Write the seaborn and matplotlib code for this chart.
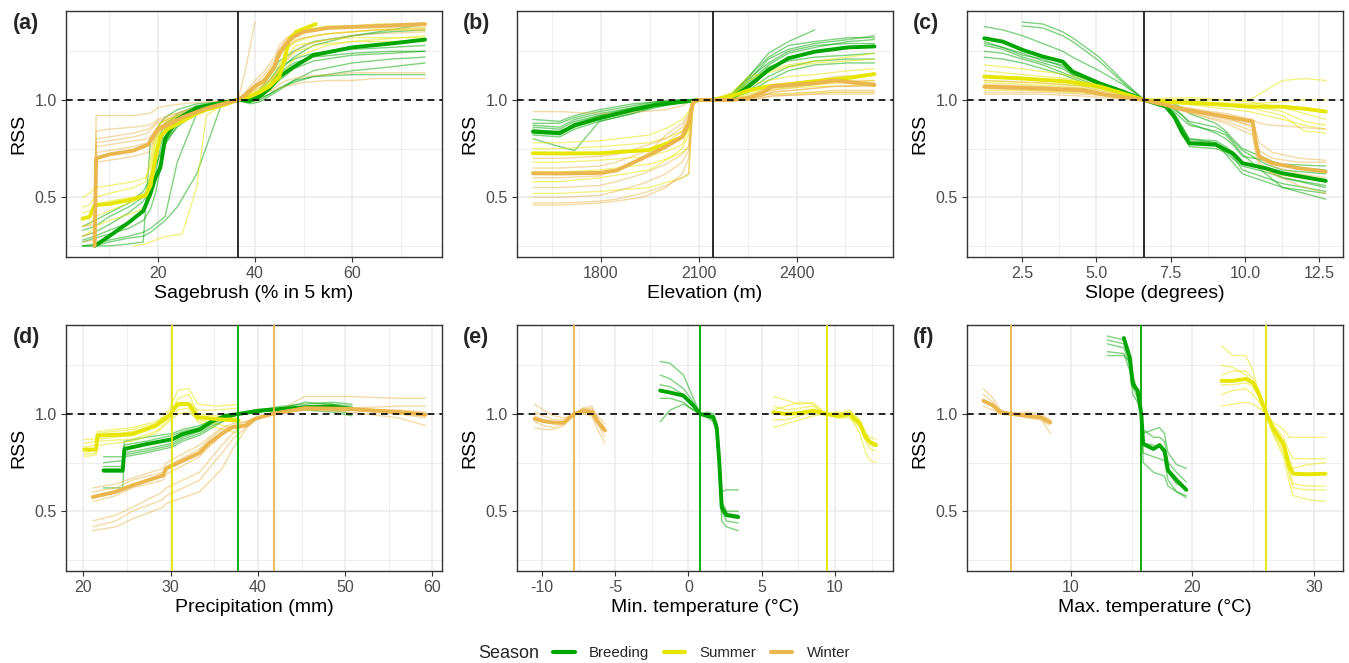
import numpy as np
import pandas as pd
import matplotlib
matplotlib.use("Agg")
import matplotlib.pyplot as plt
from matplotlib.lines import Line2D
from matplotlib.ticker import FixedLocator
import seaborn as sns

nan = np.nan
SEASONS = ["Breeding", "Summer", "Winter"]
COLORS = ["#00A600", "#E6E600", "#EAB64E"]

# ---------------- (a) Sagebrush ----------------
A_BRE_X = [4.5, 7, 10, 14, 17, 18.5, 19.5, 20.5, 21.5, 24, 28, 33, 36.5, 39, 41, 43, 45, 48, 52, 60, 68, 75]
A_BRE_MEAN = [nan, 0.25, 0.30, 0.37, 0.43, 0.52, 0.60, 0.65, 0.80, 0.90, 0.96, 0.985, 1.0, 0.995, 1.02, 1.06, 1.12, 1.17, 1.23, 1.27, 1.29, 1.31]
A_BRE_THIN = [
    [0.28, 0.30, 0.33, 0.37, 0.42, 0.50, 0.62, 0.75, 0.86, 0.93, 0.97, 0.99, 1.0, 1.0, 1.03, 1.08, 1.15, 1.22, 1.28, 1.33, 1.36, 1.39],
    [0.25, 0.25, 0.25, 0.26, 0.27, 0.80, 0.84, 0.88, 0.91, 0.95, 0.98, 0.99, 1.0, 0.99, 1.0, 1.03, 1.06, 1.10, 1.12, 1.13, 1.13, 1.13],
    [0.33, 0.35, 0.40, 0.45, 0.50, 0.58, 0.66, 0.72, 0.80, 0.88, 0.95, 0.98, 1.0, 1.01, 1.04, 1.10, 1.17, 1.21, 1.24, 1.26, 1.27, 1.28],
    [0.25, 0.26, 0.28, 0.30, 0.32, 0.34, 0.36, 0.38, 0.40, 0.68, 0.93, 0.98, 1.0, 0.98, 0.99, 1.02, 1.05, 1.10, 1.15, 1.19, 1.21, 1.22],
    [0.30, 0.32, 0.36, 0.42, 0.48, 0.55, 0.60, 0.68, 0.78, 0.86, 0.94, 0.98, 1.0, 1.0, 1.02, 1.07, 1.14, 1.19, 1.22, 1.24, 1.25, 1.25],
    [0.35, 0.38, 0.42, 0.47, 0.53, 0.60, 0.70, 0.82, 0.88, 0.92, 0.96, 0.985, 1.0, 1.01, 1.05, 1.12, 1.20, 1.25, 1.30, 1.33, 1.35, 1.36],
    [0.25, 0.25, 0.27, 0.29, 0.30, 0.32, 0.34, 0.36, 0.38, 0.45, 0.62, 0.97, 1.0, 1.0, 1.01, 1.03, 1.06, 1.09, 1.12, 1.15, 1.17, 1.19],
    [0.27, 0.29, 0.31, 0.34, 0.38, 0.44, 0.52, 0.64, 0.77, 0.87, 0.95, 0.985, 1.0, 0.99, 1.01, 1.05, 1.10, 1.16, 1.20, 1.23, 1.24, 1.25],
]
A_SUM_X = [4.5, 6, 7, 10, 15, 17.5, 18.5, 19.5, 20.5, 22, 25, 28, 30, 33, 36.5, 39, 41, 43, 45, 46, 47, 48.5, 52.5, 55, 60, 65, 75]
A_SUM_MEAN = [0.39, 0.40, 0.46, 0.465, 0.49, 0.51, 0.56, 0.70, 0.81, 0.85, 0.89, 0.93, 0.95, 0.97, 1.0, 1.02, 1.04, 1.07, 1.12, 1.2, 1.31, 1.35, 1.39, nan, nan, nan, nan]
A_SUM_THIN = [
    [0.50, 0.52, 0.55, 0.56, 0.58, 0.60, 0.66, 0.80, 0.88, 0.90, 0.92, 0.95, 0.96, 0.98, 1.0, 1.03, 1.08, 1.15, 1.22, 1.26, 1.28, 1.31, 1.33, 1.34, 1.35, 1.36, 1.37],
    [0.30, 0.32, 0.35, 0.38, 0.42, 0.45, 0.55, 0.75, 0.84, 0.88, 0.91, 0.94, 0.96, 0.98, 1.0, 1.01, 1.03, 1.06, 1.10, 1.14, 1.18, 1.22, 1.26, 1.28, 1.30, 1.31, 1.33],
    [nan, nan, nan, nan, 0.25, 0.26, 0.27, 0.28, 0.29, 0.30, 0.31, 0.55, 0.92, 0.97, 1.0, 1.02, 1.05, 1.10, 1.16, 1.20, 1.24, 1.28, 1.30, 1.31, 1.32, 1.32, 1.32],
    [0.45, 0.46, 0.50, 0.52, 0.55, 0.58, 0.70, 0.84, 0.88, 0.90, 0.93, 0.95, 0.97, 0.98, 1.0, 1.02, 1.05, 1.09, 1.15, 1.22, 1.30, 1.35, 1.37, 1.38, 1.38, 1.39, 1.39],
    [0.42, 0.43, 0.46, 0.48, 0.50, 0.52, 0.62, 0.78, 0.86, 0.89, 0.92, 0.94, 0.96, 0.98, 1.0, 1.02, 1.06, 1.12, 1.18, 1.23, 1.27, 1.30, 1.33, 1.34, 1.35, 1.36, 1.36],
    [0.35, 0.36, 0.40, 0.43, 0.48, 0.52, 0.58, 0.68, 0.80, 0.86, 0.90, 0.93, 0.95, 0.97, 1.0, 1.01, 1.04, 1.08, 1.14, 1.18, 1.22, 1.25, 1.28, 1.29, 1.30, 1.30, 1.30],
]
A_WIN_X = [4.5, 7, 7.3, 10, 15, 18, 19, 20, 22, 25, 30, 36.5, 38, 40, 42, 44, 45, 46.5, 48, 50, 55, 60, 65, 75]
A_WIN_MEAN = [nan, 0.25, 0.70, 0.72, 0.74, 0.77, 0.81, 0.85, 0.87, 0.91, 0.957, 1.0, 1.026, 1.07, 1.10, 1.17, 1.24, 1.29, 1.325, 1.35, 1.37, 1.375, 1.38, 1.39]
A_WIN_THIN = [
    [0.30, 0.32, 0.92, 0.92, 0.92, 0.93, 0.94, 0.96, 0.97, 0.98, 0.99, 1.0, 1.15, 1.40, nan, nan, nan, nan, nan, nan, nan, nan, nan, nan],
    [0.27, 0.28, 0.80, 0.81, 0.83, 0.85, 0.87, 0.89, 0.91, 0.94, 0.97, 1.0, 1.01, 1.03, 1.04, 1.05, 1.06, 1.07, 1.08, 1.09, 1.10, 1.10, 1.11, 1.11],
    [nan, 0.25, 0.76, 0.77, 0.79, 0.80, 0.83, 0.86, 0.88, 0.92, 0.96, 1.0, 1.02, 1.05, 1.08, 1.12, 1.16, 1.21, 1.25, 1.28, 1.31, 1.33, 1.34, 1.35],
    [nan, 0.25, 0.84, 0.85, 0.86, 0.87, 0.88, 0.90, 0.92, 0.94, 0.97, 1.0, 1.04, 1.10, 1.15, 1.22, 1.28, 1.32, 1.34, 1.36, 1.37, 1.38, 1.38, 1.38],
    [nan, 0.25, 0.68, 0.69, 0.71, 0.73, 0.78, 0.83, 0.86, 0.90, 0.95, 1.0, 1.01, 1.02, 1.04, 1.06, 1.08, 1.10, 1.11, 1.12, 1.13, 1.14, 1.14, 1.14],
    [0.35, 0.36, 0.78, 0.79, 0.81, 0.83, 0.86, 0.88, 0.90, 0.93, 0.96, 1.0, 1.03, 1.08, 1.13, 1.20, 1.26, 1.31, 1.34, 1.36, 1.37, 1.37, 1.37, 1.37],
    [nan, 0.25, 0.73, 0.74, 0.76, 0.78, 0.82, 0.86, 0.89, 0.92, 0.96, 1.0, 1.03, 1.07, 1.11, 1.17, 1.22, 1.27, 1.30, 1.32, 1.34, 1.35, 1.36, 1.36],
]

# ---------------- (b) Elevation ----------------
B_BRE_X = [1591, 1673, 1719, 1795, 1897, 1968, 2049, 2100, 2141, 2202, 2253, 2314, 2375, 2456, 2558, 2639]
B_BRE_MEAN = [0.837, 0.83, 0.87, 0.906, 0.949, 0.974, 0.99, 1.0, 1.0, 1.01, 1.07, 1.154, 1.214, 1.248, 1.27, 1.275]
B_BRE_THIN = [
    [0.88, 0.88, 0.91, 0.94, 0.97, 0.99, 1.0, 1.0, 1.0, 1.03, 1.12, 1.22, 1.28, 1.30, 1.32, 1.32],
    [0.80, 0.76, 0.74, 0.89, 0.93, 0.97, 0.99, 1.0, 1.0, 1.01, 1.04, 1.10, 1.15, 1.18, 1.19, 1.19],
    [0.86, 0.85, 0.89, 0.92, 0.96, 0.98, 1.0, 1.0, 1.0, 1.03, 1.12, 1.24, 1.30, 1.36, nan, nan],
    [0.82, 0.81, 0.85, 0.89, 0.93, 0.96, 0.99, 1.0, 1.0, 1.01, 1.05, 1.12, 1.17, 1.20, 1.21, 1.21],
    [0.90, 0.89, 0.92, 0.95, 0.98, 0.99, 1.0, 1.0, 1.0, 1.02, 1.09, 1.18, 1.24, 1.27, 1.30, 1.31],
    [0.84, 0.84, 0.87, 0.91, 0.95, 0.98, 0.99, 1.0, 1.0, 1.01, 1.06, 1.15, 1.22, 1.25, 1.27, 1.28],
    [0.87, 0.86, 0.90, 0.93, 0.96, 0.985, 1.0, 1.0, 1.0, 1.02, 1.10, 1.21, 1.26, 1.29, 1.31, 1.33],
    [0.83, 0.82, 0.86, 0.90, 0.94, 0.97, 0.99, 1.0, 1.0, 1.01, 1.08, 1.17, 1.20, 1.22, 1.23, 1.24],
    [0.85, 0.83, 0.88, 0.92, 0.95, 0.975, 0.995, 1.0, 1.0, 1.02, 1.11, 1.19, 1.25, 1.28, 1.29, 1.29],
]
B_SUM_X = [1591, 1673, 1795, 1948, 2008, 2049, 2069, 2082, 2100, 2141, 2202, 2253, 2314, 2375, 2456, 2558, 2639]
B_SUM_MEAN = [0.726, 0.725, 0.726, 0.743, 0.78, 0.81, 0.87, 0.99, 1.0, 1.0, 1.02, 1.05, 1.07, 1.08, 1.096, 1.113, 1.133]
B_SUM_THIN = [
    [0.78, 0.78, 0.79, 0.82, 0.86, 0.90, 0.94, 0.99, 1.0, 1.0, 1.03, 1.10, 1.15, 1.18, 1.20, 1.22, 1.24],
    [0.52, 0.52, 0.53, 0.55, 0.58, 0.60, 0.62, 0.98, 1.0, 1.0, 1.01, 1.02, 1.03, 1.03, 1.04, 1.04, 1.04],
    [0.68, 0.68, 0.69, 0.71, 0.74, 0.77, 0.85, 0.99, 1.0, 1.0, 1.03, 1.08, 1.10, 1.12, 1.13, 1.15, 1.16],
    [0.75, 0.75, 0.76, 0.78, 0.81, 0.84, 0.90, 0.99, 1.0, 1.0, 1.02, 1.04, 1.06, 1.07, 1.08, 1.09, 1.10],
    [0.58, 0.58, 0.60, 0.64, 0.70, 0.75, 0.82, 0.99, 1.0, 1.0, 1.04, 1.12, 1.14, 1.17, 1.19, 1.20, 1.21],
    [0.63, 0.63, 0.64, 0.67, 0.70, 0.73, 0.76, 0.98, 1.0, 1.0, 1.01, 1.03, 1.05, 1.06, 1.07, 1.07, 1.08],
]
B_WIN_X = [1591, 1673, 1795, 1846, 1927, 1999, 2049, 2069, 2082, 2100, 2141, 2202, 2253, 2294, 2324, 2456, 2517, 2639]
B_WIN_MEAN = [0.623, 0.622, 0.625, 0.637, 0.70, 0.76, 0.81, 0.88, 0.99, 1.0, 1.0, 1.0, 1.01, 1.035, 1.07, 1.086, 1.10, 1.077]
B_WIN_THIN = [
    [0.94, 0.94, 0.93, 0.93, 0.94, 0.95, 0.97, 0.99, 1.0, 1.0, 1.0, 1.0, 1.01, 1.02, 1.03, 1.04, 1.05, 1.05],
    [0.47, 0.47, 0.48, 0.49, 0.52, 0.56, 0.60, 0.62, 0.98, 1.0, 1.0, 1.0, 1.0, 1.01, 1.02, 1.03, 1.03, 1.03],
    [0.55, 0.55, 0.56, 0.58, 0.62, 0.67, 0.72, 0.76, 0.97, 1.0, 1.0, 1.0, 1.02, 1.05, 1.08, 1.10, 1.12, 1.13],
    [0.70, 0.70, 0.71, 0.72, 0.76, 0.80, 0.86, 0.92, 0.99, 1.0, 1.0, 1.0, 1.01, 1.02, 1.04, 1.06, 1.07, 1.07],
    [0.46, 0.46, 0.47, 0.48, 0.50, 0.55, 0.62, 0.70, 0.98, 1.0, 1.0, 1.0, 1.01, 1.03, 1.05, 1.08, 1.09, 1.09],
    [0.60, 0.60, 0.61, 0.64, 0.70, 0.82, 0.88, 0.93, 0.99, 1.0, 1.0, 1.0, 1.00, 1.01, 1.02, 1.03, 1.04, 1.04],
    [0.50, 0.50, 0.51, 0.53, 0.57, 0.62, 0.68, 0.74, 0.98, 1.0, 1.0, 1.0, 1.01, 1.02, 1.04, 1.06, 1.07, 1.08],
    [0.65, 0.65, 0.66, 0.68, 0.73, 0.78, 0.84, 0.90, 0.99, 1.0, 1.0, 1.0, 1.01, 1.03, 1.06, 1.08, 1.10, 1.10],
]

# ---------------- (c) Slope ----------------
C_BRE_X = [1.23, 1.85, 2.52, 3.2, 3.87, 4.2, 5.1, 5.89, 6.61, 7.34, 7.62, 7.9, 8.13, 9.02, 9.36, 9.59, 9.92, 10.7, 11.27, 12.72]
C_BRE_MEAN = [1.317, 1.30, 1.257, 1.223, 1.197, 1.146, 1.086, 1.043, 1.0, 0.966, 0.914, 0.829, 0.777, 0.77, 0.743, 0.726, 0.675, 0.649, 0.623, 0.584]
C_BRE_THIN = [
    [1.377, 1.36, 1.33, 1.29, 1.25, 1.22, 1.15, 1.08, 1.0, 0.99, 0.98, 0.96, 0.93, 0.88, 0.84, 0.80, 0.75, 0.70, 0.66, 0.64],
    [nan, nan, 1.40, 1.39, 1.35, 1.32, 1.22, 1.10, 1.0, 0.97, 0.93, 0.86, 0.80, 0.78, 0.72, 0.68, 0.62, 0.58, 0.55, 0.52],
    [1.28, 1.26, 1.22, 1.19, 1.16, 1.13, 1.08, 1.04, 1.0, 0.96, 0.92, 0.84, 0.76, 0.75, 0.73, 0.70, 0.66, 0.63, 0.60, 0.55],
    [1.25, 1.24, 1.21, 1.18, 1.14, 1.12, 1.07, 1.03, 1.0, 0.97, 0.94, 0.90, 0.87, 0.84, 0.82, 0.78, 0.72, 0.62, 0.55, 0.49],
    [1.30, 1.27, 1.24, 1.20, 1.18, 1.13, 1.09, 1.05, 1.0, 0.96, 0.92, 0.85, 0.80, 0.79, 0.76, 0.73, 0.68, 0.65, 0.60, 0.56],
    [1.22, 1.21, 1.19, 1.16, 1.13, 1.11, 1.06, 1.03, 1.0, 0.97, 0.95, 0.92, 0.88, 0.83, 0.80, 0.77, 0.71, 0.69, 0.67, 0.66],
    [1.29, 1.27, 1.23, 1.21, 1.17, 1.14, 1.08, 1.04, 1.0, 0.965, 0.93, 0.86, 0.79, 0.78, 0.75, 0.71, 0.64, 0.60, 0.57, 0.53],
    [nan, nan, 1.38, 1.37, 1.33, 1.30, 1.20, 1.09, 1.0, 0.98, 0.96, 0.92, 0.89, 0.86, 0.83, 0.79, 0.74, 0.67, 0.64, 0.62],
]
C_SUM_X = [1.23, 2.52, 3.98, 5.1, 5.89, 6.61, 7.34, 8.46, 10.15, 11.27, 12.0, 12.72]
C_SUM_MEAN = [1.12, 1.11, 1.095, 1.07, 1.034, 1.0, 0.99, 0.983, 0.966, 0.965, 0.955, 0.94]
C_SUM_THIN = [
    [1.18, 1.16, 1.13, 1.09, 1.04, 1.0, 1.0, 1.0, 1.0, 1.10, 1.11, 1.10],
    [1.05, 1.05, 1.04, 1.03, 1.02, 1.0, 0.99, 0.97, 0.94, 0.90, 0.87, 0.85],
    [1.15, 1.13, 1.11, 1.08, 1.04, 1.0, 1.01, 1.01, 0.99, 0.96, 0.93, 0.90],
    [1.09, 1.08, 1.07, 1.05, 1.03, 1.0, 0.99, 0.98, 0.97, 0.94, 0.89, 0.87],
    [1.12, 1.11, 1.09, 1.06, 1.03, 1.0, 1.0, 0.99, 0.98, 0.99, 1.0, 1.0],
    [1.10, 1.09, 1.08, 1.06, 1.03, 1.0, 0.99, 0.98, 0.96, 0.92, 0.84, 0.83],
]
C_WIN_X = [1.23, 3.0, 4.54, 5.33, 6.61, 8.0, 9.36, 10.26, 10.37, 10.48, 10.93, 11.83, 12.72]
C_WIN_MEAN = [1.068, 1.06, 1.05, 1.027, 1.0, 0.949, 0.914, 0.889, 0.777, 0.71, 0.675, 0.649, 0.632]
C_WIN_THIN = [
    [1.10, 1.09, 1.07, 1.04, 1.0, 0.96, 0.93, 0.90, 0.89, 0.88, 0.87, 0.86, 0.85],
    [1.04, 1.04, 1.03, 1.02, 1.0, 0.94, 0.88, 0.82, 0.72, 0.66, 0.62, 0.60, 0.58],
    [1.07, 1.06, 1.05, 1.03, 1.0, 0.95, 0.90, 0.87, 0.80, 0.74, 0.70, 0.68, 0.68],
    [1.06, 1.05, 1.04, 1.02, 1.0, 0.94, 0.89, 0.84, 0.76, 0.70, 0.66, 0.62, 0.60],
    [1.08, 1.07, 1.06, 1.03, 1.0, 0.96, 0.92, 0.89, 0.84, 0.78, 0.73, 0.70, 0.69],
    [1.03, 1.03, 1.02, 1.01, 1.0, 0.95, 0.91, 0.86, 0.76, 0.68, 0.62, 0.56, 0.52],
]

# ---------------- (d) Precipitation ----------------
D_BRE_X = [22.3, 24.5, 24.7, 27.2, 30.2, 31.35, 33.3, 34.8, 36.3, 37.8, 40.1, 42.8, 45.4, 48.5, 50.8]
D_BRE_MEAN = [0.71, 0.71, 0.82, 0.845, 0.87, 0.896, 0.92, 0.964, 0.99, 1.0, 1.017, 1.026, 1.034, 1.037, 1.026]
D_BRE_THIN = [
    [0.78, 0.78, 0.86, 0.88, 0.90, 0.92, 0.94, 0.97, 0.99, 1.0, 1.02, 1.04, 1.05, 1.06, 1.05],
    [0.62, 0.62, 0.78, 0.80, 0.83, 0.86, 0.89, 0.93, 0.97, 1.0, 1.01, 1.02, 1.03, 1.02, 1.00],
    [0.75, 0.76, 0.80, 0.82, 0.85, 0.88, 0.91, 0.95, 0.98, 1.0, 1.01, 1.03, 1.04, 1.05, 1.03],
    [0.70, 0.70, 0.84, 0.86, 0.89, 0.91, 0.93, 0.96, 0.99, 1.0, 1.02, 1.02, 1.02, 1.01, 0.99],
    [0.73, 0.73, 0.79, 0.81, 0.84, 0.87, 0.90, 0.94, 0.97, 1.0, 1.01, 1.03, 1.06, 1.05, 1.04],
]
D_SUM_X = [20.1, 21.45, 21.6, 25.6, 28.3, 29.8, 30.8, 32.1, 33.1, 35.2, 37.8]
D_SUM_MEAN = [0.817, 0.817, 0.889, 0.896, 0.94, 0.99, 1.05, 1.05, 0.983, 0.974, 0.966]
D_SUM_THIN = [
    [0.85, 0.86, 0.90, 0.92, 0.95, 1.02, 1.12, 1.13, 1.05, 1.04, 1.05],
    [0.78, 0.79, 0.84, 0.86, 0.90, 0.96, 1.00, 1.01, 0.97, 0.95, 0.92],
    [0.80, 0.82, 0.87, 0.89, 0.93, 0.98, 1.08, 1.10, 1.00, 0.99, 0.98],
    [0.83, 0.84, 0.88, 0.91, 0.94, 0.99, 1.04, 1.05, 0.99, 0.97, 0.96],
    [0.87, 0.87, 0.91, 0.93, 0.96, 1.00, 1.06, 1.06, 1.02, 1.02, 1.03],
    [0.79, 0.80, 0.86, 0.87, 0.91, 0.97, 1.02, 1.03, 0.96, 0.93, 0.90],
]
D_WIN_X = [21.07, 23.7, 25.6, 29.1, 29.5, 33.3, 34.4, 35.9, 37.1, 38.6, 39.7, 41.6, 45.4, 50.4, 56.1, 59.2]
D_WIN_MEAN = [0.573, 0.60, 0.633, 0.684, 0.72, 0.80, 0.85, 0.90, 0.932, 0.94, 0.975, 1.0, 1.03, 1.026, 1.01, 0.996]
D_WIN_THIN = [
    [0.42, 0.45, 0.50, 0.56, 0.58, 0.66, 0.72, 0.80, 0.87, 0.93, 0.97, 1.0, 1.04, 1.02, 1.00, 0.98],
    [0.45, 0.48, 0.52, 0.60, 0.62, 0.70, 0.76, 0.84, 0.90, 0.95, 0.98, 1.0, 1.09, 1.09, 1.08, 1.08],
    [0.62, 0.64, 0.67, 0.72, 0.75, 0.84, 0.88, 0.93, 0.95, 0.96, 0.98, 1.0, 1.03, 1.03, 1.04, 1.04],
    [0.55, 0.58, 0.62, 0.66, 0.69, 0.78, 0.83, 0.89, 0.93, 0.95, 0.98, 1.0, 1.02, 1.01, 0.98, 0.94],
    [0.60, 0.62, 0.66, 0.70, 0.73, 0.82, 0.87, 0.92, 0.94, 0.96, 0.98, 1.0, 1.03, 1.02, 1.02, 1.01],
    [0.40, 0.42, 0.46, 0.52, 0.54, 0.60, 0.65, 0.72, 0.82, 0.92, 0.97, 1.0, 1.02, 1.02, 1.01, 1.00],
]

# ---------------- (e) Min. temperature ----------------
E_BRE_X = [-1.93, -1.25, -0.34, 0.34, 0.8, 1.3, 1.7, 1.93, 2.1, 2.27, 2.6, 3.4]
E_BRE_MEAN = [1.12, 1.11, 1.094, 1.043, 1.0, 0.99, 0.983, 0.93, 0.76, 0.52, 0.48, 0.47]
E_BRE_THIN = [
    [1.27, 1.26, 1.20, 1.08, 1.0, 1.0, 0.99, 0.95, 0.80, 0.60, 0.61, 0.61],
    [0.96, 1.02, 1.05, 1.02, 1.0, 0.99, 0.97, 0.90, 0.70, 0.45, 0.42, 0.40],
    [1.15, 1.14, 1.10, 1.05, 1.0, 1.01, 1.00, 0.95, 0.78, 0.55, 0.50, 0.50],
    [1.08, 1.08, 1.06, 1.02, 1.0, 0.98, 0.96, 0.90, 0.72, 0.50, 0.45, 0.44],
    [1.20, 1.18, 1.13, 1.06, 1.0, 1.00, 0.99, 0.94, 0.77, 0.54, 0.49, 0.48],
]
E_SUM_X = [5.8, 6.7, 7.6, 8.5, 9.4, 10.2, 11.0, 11.7, 12.1, 12.4, 12.8]
E_SUM_MEAN = [1.008, 1.0, 1.005, 1.017, 1.0, 0.99, 1.0, 0.95, 0.88, 0.855, 0.84]
E_SUM_THIN = [
    [1.09, 1.07, 1.05, 1.06, 1.0, 1.01, 1.0, 0.96, 0.90, 0.88, 0.87],
    [0.93, 0.95, 0.97, 0.99, 1.0, 0.98, 0.99, 0.90, 0.80, 0.76, 0.75],
    [1.04, 1.02, 1.03, 1.04, 1.0, 1.0, 1.02, 0.97, 0.90, 0.86, 0.85],
    [0.97, 0.97, 0.99, 1.01, 1.0, 0.98, 0.98, 0.93, 0.86, 0.82, 0.81],
    [1.02, 1.04, 1.06, 1.05, 1.0, 0.99, 1.01, 0.96, 0.89, 0.84, 0.83],
]
E_WIN_X = [-10.5, -9.9, -9.2, -8.5, -7.8, -7.2, -6.6, -6.2, -5.7]
E_WIN_MEAN = [0.975, 0.963, 0.955, 0.955, 1.0, 1.015, 1.01, 0.96, 0.915]
E_WIN_THIN = [
    [1.05, 1.02, 0.99, 0.98, 1.0, 1.03, 1.04, 0.98, 0.92],
    [0.93, 0.92, 0.92, 0.94, 1.0, 1.00, 0.99, 0.92, 0.85],
    [0.99, 0.97, 0.96, 0.96, 1.0, 1.03, 1.02, 0.97, 0.93],
    [0.96, 0.94, 0.93, 0.95, 1.0, 1.01, 1.00, 0.95, 0.88],
    [1.01, 0.99, 0.97, 0.97, 1.0, 1.02, 1.03, 0.99, 0.95],
]

# ---------------- (f) Max. temperature ----------------
F_BRE_X = [13.0, 14.36, 14.85, 15.1, 15.5, 15.8, 15.95, 16.8, 17.3, 17.7, 18.0, 18.7, 19.5]
F_BRE_MEAN = [nan, 1.39, 1.29, 1.154, 1.12, 1.0, 0.846, 0.82, 0.84, 0.81, 0.71, 0.66, 0.61]
F_BRE_THIN = [
    [1.30, 1.30, 1.27, 1.20, 1.10, 1.0, 0.92, 0.88, 0.88, 0.86, 0.75, 0.70, 0.65],
    [1.40, 1.38, 1.30, 1.18, 1.12, 1.0, 0.80, 0.78, 0.77, 0.76, 0.66, 0.60, 0.57],
    [1.36, 1.34, 1.25, 1.14, 1.08, 1.0, 0.90, 0.92, 0.93, 0.90, 0.80, 0.74, 0.72],
    [1.32, 1.31, 1.22, 1.10, 1.06, 1.0, 0.75, 0.70, 0.69, 0.68, 0.63, 0.60, 0.58],
    [1.38, 1.36, 1.28, 1.16, 1.10, 1.0, 0.85, 0.84, 0.83, 0.80, 0.70, 0.64, 0.62],
]
F_SUM_X = [22.4, 23.3, 24.4, 25.0, 25.5, 26.1, 26.6, 27.5, 28.0, 28.3, 29.5, 30.96]
F_SUM_MEAN = [1.17, 1.17, 1.18, 1.16, 1.10, 1.0, 0.93, 0.846, 0.727, 0.693, 0.69, 0.693]
F_SUM_THIN = [
    [1.35, 1.30, 1.30, 1.22, 1.10, 1.0, 0.96, 0.92, 0.88, 0.88, 0.88, 0.88],
    [1.04, 1.05, 1.06, 1.05, 1.03, 1.0, 0.90, 0.78, 0.64, 0.58, 0.56, 0.55],
    [1.20, 1.22, 1.22, 1.18, 1.12, 1.0, 0.95, 0.88, 0.80, 0.77, 0.77, 0.77],
    [1.10, 1.12, 1.13, 1.10, 1.06, 1.0, 0.92, 0.82, 0.68, 0.62, 0.61, 0.61],
    [1.15, 1.15, 1.16, 1.14, 1.08, 1.0, 0.94, 0.86, 0.76, 0.72, 0.74, 0.75],
    [1.25, 1.24, 1.20, 1.16, 1.10, 1.0, 0.91, 0.80, 0.70, 0.64, 0.63, 0.63],
]
F_WIN_X = [2.8, 3.6, 4.2, 5.1, 6.4, 7.5, 8.3]
F_WIN_MEAN = [1.068, 1.043, 1.008, 1.0, 0.99, 0.983, 0.957]
F_WIN_THIN = [
    [1.13, 1.08, 1.02, 1.0, 1.0, 0.98, 0.90],
    [1.04, 1.02, 1.00, 1.0, 1.01, 1.00, 0.97],
    [1.10, 1.06, 1.01, 1.0, 0.98, 0.97, 0.94],
    [1.06, 1.05, 1.02, 1.0, 0.99, 0.99, 0.96],
]

# reference (vertical) lines: mean availability per panel
A_REF = [36.5]
B_REF = [2143]
C_REF = [6.62]
D_REF = {"Summer": 30.2, "Breeding": 37.7, "Winter": 41.8}
E_REF = {"Winter": -7.8, "Breeding": 0.82, "Summer": 9.48}
F_REF = {"Winter": 5.07, "Breeding": 15.8, "Summer": 26.1}

XLABELS = ["Sagebrush (% in 5 km)", "Elevation (m)", "Slope (degrees)",
           "Precipitation (mm)", "Min. temperature (\u00b0C)", "Max. temperature (\u00b0C)"]
LETTERS = ["(a)", "(b)", "(c)", "(d)", "(e)", "(f)"]

GROUPS = {
    "a": [(A_BRE_X, A_BRE_MEAN, A_BRE_THIN), (A_SUM_X, A_SUM_MEAN, A_SUM_THIN), (A_WIN_X, A_WIN_MEAN, A_WIN_THIN)],
    "b": [(B_BRE_X, B_BRE_MEAN, B_BRE_THIN), (B_SUM_X, B_SUM_MEAN, B_SUM_THIN), (B_WIN_X, B_WIN_MEAN, B_WIN_THIN)],
    "c": [(C_BRE_X, C_BRE_MEAN, C_BRE_THIN), (C_SUM_X, C_SUM_MEAN, C_SUM_THIN), (C_WIN_X, C_WIN_MEAN, C_WIN_THIN)],
    "d": [(D_BRE_X, D_BRE_MEAN, D_BRE_THIN), (D_SUM_X, D_SUM_MEAN, D_SUM_THIN), (D_WIN_X, D_WIN_MEAN, D_WIN_THIN)],
    "e": [(E_BRE_X, E_BRE_MEAN, E_BRE_THIN), (E_SUM_X, E_SUM_MEAN, E_SUM_THIN), (E_WIN_X, E_WIN_MEAN, E_WIN_THIN)],
    "f": [(F_BRE_X, F_BRE_MEAN, F_BRE_THIN), (F_SUM_X, F_SUM_MEAN, F_SUM_THIN), (F_WIN_X, F_WIN_MEAN, F_WIN_THIN)],
}

rows = []
for panel, glist in GROUPS.items():
    for season, (xs, mean, thin) in zip(SEASONS, glist):
        for i, ys in enumerate(thin):
            for x, y in zip(xs, ys):
                if not np.isnan(y):
                    rows.append((panel, season, f"t{i}", "thin", x, y))
        for x, y in zip(xs, mean):
            if not np.isnan(y):
                rows.append((panel, season, "mean", "mean", x, y))
df = pd.DataFrame(rows, columns=["panel", "season", "line", "kind", "x", "y"])

# ---------------- styling ----------------
sns.set_theme(style="white")
plt.rcParams["font.family"] = ["Liberation Sans", "DejaVu Sans"]
PAL = dict(zip(SEASONS, COLORS))

W, H = 1349, 663
fig = plt.figure(figsize=(W / 100, H / 100), dpi=100)
fig.patch.set_facecolor("white")

col_left = [66, 517, 967]
ax_w = 376
row_top = [11, 325]
ax_h = 246

XLIMS = [(1.1, 78.5), (1542, 2696), (0.65, 13.3), (18.0, 61.1), (-11.7, 13.96), (1.45, 32.4)]
XMAJ = [[20, 40, 60], [1800, 2100, 2400], [2.5, 5.0, 7.5, 10.0, 12.5], [20, 30, 40, 50, 60], [-10, -5, 0, 5, 10], [10, 20, 30]]
XMIN = [[10, 30, 50, 70], [1650, 1950, 2250, 2550], [1.25, 3.75, 6.25, 8.75, 11.25], [25, 35, 45, 55], [-7.5, -2.5, 2.5, 7.5, 12.5], [5, 15, 25]]
XFMT = ["{:.0f}", "{:.0f}", "{:.1f}", "{:.0f}", "{:.0f}", "{:.0f}"]
REFS = [A_REF, B_REF, C_REF, D_REF, E_REF, F_REF]

for k, panel in enumerate("abcdef"):
    r, c = divmod(k, 3)
    left = col_left[c] / W
    bottom = 1 - (row_top[r] + ax_h) / H
    ax = fig.add_axes([left, bottom, ax_w / W, ax_h / H])
    ax.set_facecolor("white")
    sub = df[df.panel == panel]

    ax.set_xlim(*XLIMS[k])
    ax.set_ylim(0.193, 1.457)
    ax.xaxis.set_major_locator(FixedLocator(XMAJ[k]))
    ax.xaxis.set_minor_locator(FixedLocator(XMIN[k]))
    ax.yaxis.set_major_locator(FixedLocator([0.5, 1.0]))
    ax.yaxis.set_minor_locator(FixedLocator([0.25, 0.75, 1.25]))
    ax.grid(which="major", color="#EBEBEB", lw=1.1, zorder=0)
    ax.grid(which="minor", color="#EBEBEB", lw=0.6, zorder=0)
    ax.set_axisbelow(True)

    sns.lineplot(data=sub[sub.kind == "thin"], x="x", y="y", hue="season", units="line",
                 estimator=None, sort=False, palette=PAL, hue_order=SEASONS,
                 lw=1.0, alpha=0.5, legend=False, ax=ax)
    sns.lineplot(data=sub[sub.kind == "mean"], x="x", y="y", hue="season", units="line",
                 estimator=None, sort=False, palette=PAL, hue_order=SEASONS,
                 lw=2.8, alpha=1.0, legend=False, ax=ax)

    ax.axhline(1.0, color="black", lw=1.2, ls=(0, (4, 3)), zorder=5)
    ref = REFS[k]
    if isinstance(ref, dict):
        for season, v in ref.items():
            ax.axvline(v, color=PAL[season], lw=1.3, zorder=6)
    else:
        for v in ref:
            ax.axvline(v, color="#1A1A1A", lw=1.3, zorder=6)

    ax.set_xticklabels([XFMT[k].format(v) for v in XMAJ[k]])
    ax.set_yticklabels(["0.5", "1.0"])
    ax.tick_params(which="major", length=3.5, width=0.8, color="#333333",
                   labelsize=11.5, labelcolor="#4D4D4D", pad=3, bottom=True, left=True)
    ax.tick_params(which="minor", length=0, bottom=False, left=False)
    for sp in ax.spines.values():
        sp.set_color("#333333")
        sp.set_linewidth(1.0)
    ax.set_xlabel(XLABELS[k], fontsize=14, color="black", labelpad=3)
    ax.set_ylabel("RSS", fontsize=14, color="black", labelpad=5)

    lx = 13 if c == 0 else col_left[c] - 54
    fig.text(lx / W, 1 - (row_top[r] + 13) / H, LETTERS[k], fontsize=15.5,
             fontweight="bold", ha="left", va="center")

# legend
fig.text(478 / W, 1 - 653 / H, "Season", fontsize=13, ha="left", va="center")
handles = [Line2D([0], [0], color=col, lw=3) for col in COLORS]
fig.legend(handles, SEASONS, loc="center left", bbox_to_anchor=(553 / W, 1 - 653 / H),
           ncol=3, frameon=False, fontsize=10.8, handlelength=1.45, handletextpad=0.95,
           columnspacing=0.95, borderaxespad=0, borderpad=0)

fig.savefig("out.png", dpi=100, facecolor="white")
